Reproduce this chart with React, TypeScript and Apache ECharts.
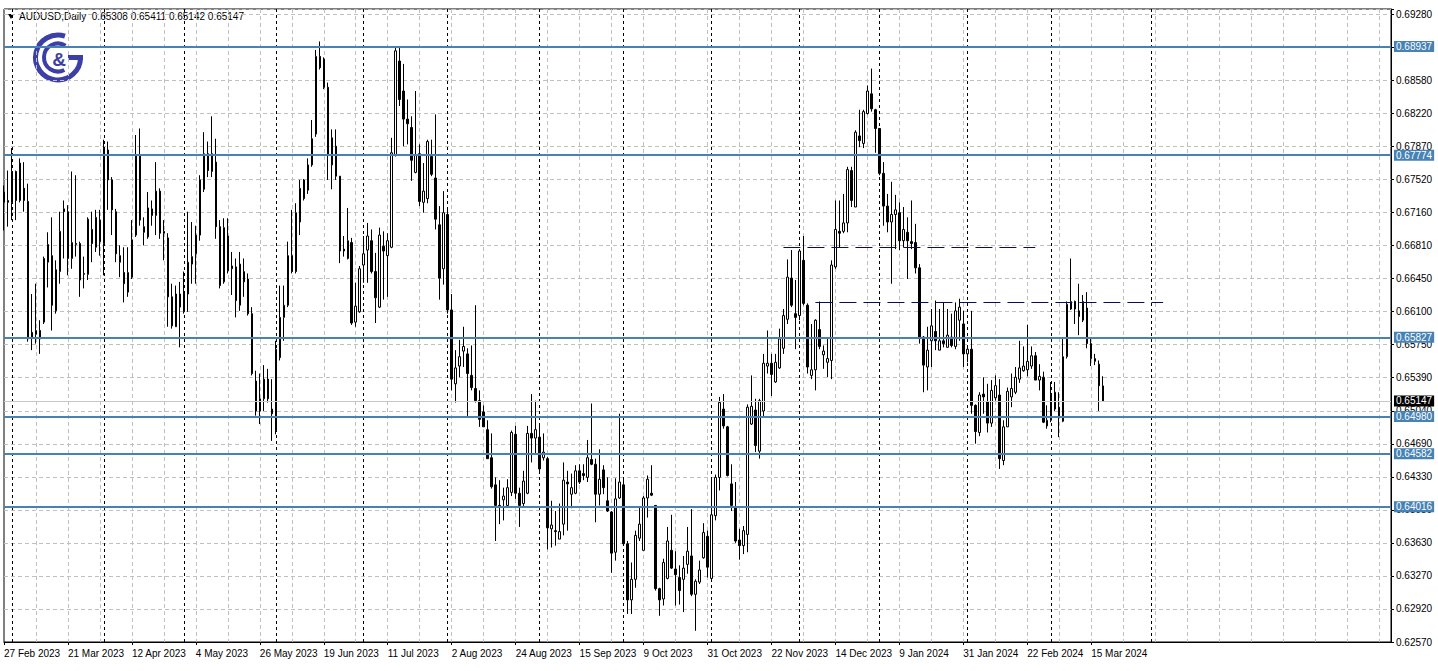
import { useEffect, useRef } from "react";
import * as echarts from "echarts";

// ---------- data ----------
const SYMBOL_TEXT = "AUDUSD,Daily  0.65308 0.65411 0.65142 0.65147";
const START_DATE = [2023, 1, 27]; // 27 Feb 2023 (month is 0-based)
const MISSING_DAYS = ["2023-12-25", "2024-01-01"];
const TOTAL_SLOTS = 348;
const LABEL_EVERY = 16;
const GRID_EVERY = 8;
const EXTRA_SEPARATOR = 287;

const Y_TICK_LABELS = [
  "0.62570", "0.62920", "0.63270", "0.63630", "0.63980", "0.64330", "0.64690",
  "0.65040", "0.65390", "0.65750", "0.66100", "0.66450", "0.66810", "0.67160",
  "0.67520", "0.67870", "0.68220", "0.68580", "0.68930", "0.69280",
];
const Y_MIN = 0.6257;
const Y_TOP_TICK = 0.6928;
const Y_MAX = 0.69337;

const LEVELS = [0.68937, 0.67774, 0.65827, 0.6498, 0.64582, 0.64016];
const LAST_PRICE = 0.65147;
const DASHED_LEVELS = [
  { from: 195, to: 258, price: 0.66794 },
  { from: 203, to: 290, price: 0.66207 },
];

// [open, high, low, close]
const OHLC: number[][] = [
  [0.6727, 0.6745, 0.6697, 0.6738], [0.6727, 0.6761, 0.6701, 0.6729], [0.6727, 0.6785, 0.6708, 0.6760],
  [0.6760, 0.6761, 0.6708, 0.6729], [0.6729, 0.6774, 0.6727, 0.6769], [0.6742, 0.6770, 0.6717, 0.6729],
  [0.6728, 0.6747, 0.6578, 0.6581], [0.6583, 0.6629, 0.6569, 0.6588], [0.6586, 0.6640, 0.6576, 0.6590],
  [0.6590, 0.6601, 0.6565, 0.6581], [0.6599, 0.6669, 0.6597, 0.6667], [0.6663, 0.6695, 0.6636, 0.6682],
  [0.6670, 0.6711, 0.6590, 0.6617], [0.6611, 0.6665, 0.6608, 0.6655], [0.6653, 0.6717, 0.6640, 0.6696],
  [0.6720, 0.6729, 0.6667, 0.6717], [0.6717, 0.6724, 0.6649, 0.6667], [0.6667, 0.6760, 0.6656, 0.6684],
  [0.6683, 0.6756, 0.6669, 0.6682], [0.6683, 0.6685, 0.6626, 0.6644], [0.6650, 0.6669, 0.6635, 0.6651],
  [0.6650, 0.6711, 0.6644, 0.6709], [0.6698, 0.6717, 0.6663, 0.6683], [0.6679, 0.6719, 0.6674, 0.6711],
  [0.6708, 0.6719, 0.6670, 0.6685], [0.6683, 0.6794, 0.6649, 0.6785], [0.6783, 0.6792, 0.6719, 0.6751],
  [0.6751, 0.6754, 0.6692, 0.6719], [0.6717, 0.6720, 0.6663, 0.6672], [0.6670, 0.6681, 0.6647, 0.6663],
  [0.6652, 0.6679, 0.6620, 0.6640], [0.6631, 0.6679, 0.6626, 0.6652], [0.6647, 0.6708, 0.6645, 0.6687],
  [0.6692, 0.6799, 0.6690, 0.6778], [0.6777, 0.6806, 0.6702, 0.6708], [0.6695, 0.6711, 0.6681, 0.6701],
  [0.6690, 0.6738, 0.6688, 0.6721], [0.6720, 0.6729, 0.6702, 0.6713], [0.6713, 0.6770, 0.6692, 0.6739],
  [0.6739, 0.6742, 0.6688, 0.6694], [0.6694, 0.6708, 0.6665, 0.6696], [0.6689, 0.6694, 0.6594, 0.6626],
  [0.6626, 0.6640, 0.6592, 0.6595], [0.6594, 0.6638, 0.6594, 0.6629], [0.6629, 0.6642, 0.6572, 0.6615],
  [0.6610, 0.6653, 0.6608, 0.6630], [0.6629, 0.6717, 0.6610, 0.6663], [0.6661, 0.6706, 0.6640, 0.6669],
  [0.6672, 0.6702, 0.6640, 0.6692], [0.6692, 0.6756, 0.6686, 0.6751], [0.6741, 0.6802, 0.6738, 0.6779],
  [0.6779, 0.6792, 0.6754, 0.6761], [0.6760, 0.6819, 0.6754, 0.6779], [0.6770, 0.6795, 0.6688, 0.6701],
  [0.6701, 0.6708, 0.6635, 0.6638], [0.6642, 0.6710, 0.6640, 0.6700], [0.6691, 0.6710, 0.6651, 0.6654],
  [0.6656, 0.6674, 0.6628, 0.6659], [0.6658, 0.6667, 0.6604, 0.6622], [0.6617, 0.6674, 0.6611, 0.6661],
  [0.6642, 0.6667, 0.6626, 0.6653], [0.6645, 0.6651, 0.6606, 0.6608], [0.6608, 0.6615, 0.6542, 0.6544],
  [0.6536, 0.6547, 0.6499, 0.6504], [0.6504, 0.6544, 0.6490, 0.6517], [0.6517, 0.6553, 0.6504, 0.6538],
  [0.6538, 0.6549, 0.6513, 0.6517], [0.6506, 0.6538, 0.6472, 0.6501], [0.6483, 0.6579, 0.6479, 0.6570],
  [0.6561, 0.6638, 0.6558, 0.6604], [0.6604, 0.6638, 0.6579, 0.6617], [0.6617, 0.6685, 0.6615, 0.6670],
  [0.6670, 0.6719, 0.6651, 0.6653], [0.6653, 0.6726, 0.6651, 0.6716], [0.6706, 0.6751, 0.6692, 0.6742],
  [0.6731, 0.6752, 0.6729, 0.6751], [0.6740, 0.6774, 0.6736, 0.6767], [0.6767, 0.6815, 0.6765, 0.6795],
  [0.6800, 0.6890, 0.6797, 0.6883], [0.6883, 0.6899, 0.6869, 0.6871], [0.6880, 0.6882, 0.6848, 0.6850],
  [0.6850, 0.6855, 0.6751, 0.6777], [0.6767, 0.6805, 0.6741, 0.6796], [0.6787, 0.6805, 0.6751, 0.6755],
  [0.6755, 0.6755, 0.6662, 0.6675], [0.6677, 0.6691, 0.6669, 0.6675], [0.6667, 0.6721, 0.6666, 0.6686],
  [0.6684, 0.6689, 0.6596, 0.6598], [0.6599, 0.6641, 0.6594, 0.6616], [0.6610, 0.6659, 0.6609, 0.6656],
  [0.6660, 0.6691, 0.6641, 0.6672], [0.6676, 0.6705, 0.6641, 0.6691], [0.6686, 0.6698, 0.6651, 0.6653],
  [0.6653, 0.6673, 0.6598, 0.6625], [0.6615, 0.6700, 0.6614, 0.6692], [0.6680, 0.6696, 0.6623, 0.6675],
  [0.6670, 0.6694, 0.6626, 0.6686], [0.6679, 0.6796, 0.6678, 0.6780], [0.6778, 0.6894, 0.6776, 0.6889],
  [0.6878, 0.6894, 0.6830, 0.6837], [0.6846, 0.6875, 0.6787, 0.6816], [0.6816, 0.6837, 0.6789, 0.6811],
  [0.6807, 0.6819, 0.6750, 0.6772], [0.6759, 0.6846, 0.6758, 0.6778], [0.6779, 0.6789, 0.6723, 0.6728],
  [0.6727, 0.6769, 0.6716, 0.6739], [0.6731, 0.6794, 0.6726, 0.6792], [0.6776, 0.6794, 0.6755, 0.6757],
  [0.6753, 0.6821, 0.6698, 0.6709], [0.6703, 0.6723, 0.6623, 0.6646], [0.6656, 0.6739, 0.6639, 0.6716],
  [0.6714, 0.6719, 0.6608, 0.6612], [0.6612, 0.6629, 0.6526, 0.6538], [0.6533, 0.6569, 0.6513, 0.6550],
  [0.6552, 0.6580, 0.6540, 0.6562], [0.6568, 0.6594, 0.6551, 0.6573], [0.6565, 0.6571, 0.6497, 0.6544],
  [0.6542, 0.6574, 0.6526, 0.6529], [0.6528, 0.6617, 0.6513, 0.6515], [0.6515, 0.6526, 0.6487, 0.6495],
  [0.6503, 0.6510, 0.6487, 0.6487], [0.6484, 0.6494, 0.6453, 0.6453], [0.6454, 0.6480, 0.6421, 0.6423],
  [0.6425, 0.6433, 0.6365, 0.6403], [0.6403, 0.6430, 0.6383, 0.6402], [0.6409, 0.6422, 0.6387, 0.6413],
  [0.6403, 0.6431, 0.6401, 0.6422], [0.6417, 0.6483, 0.6413, 0.6481], [0.6479, 0.6488, 0.6410, 0.6416],
  [0.6416, 0.6422, 0.6380, 0.6403], [0.6405, 0.6440, 0.6401, 0.6429], [0.6416, 0.6488, 0.6415, 0.6480],
  [0.6480, 0.6522, 0.6449, 0.6475], [0.6475, 0.6515, 0.6458, 0.6484], [0.6476, 0.6488, 0.6437, 0.6442],
  [0.6454, 0.6480, 0.6451, 0.6460], [0.6453, 0.6455, 0.6356, 0.6379], [0.6378, 0.6408, 0.6358, 0.6382],
  [0.6376, 0.6397, 0.6360, 0.6375], [0.6367, 0.6405, 0.6367, 0.6375], [0.6383, 0.6449, 0.6371, 0.6430],
  [0.6428, 0.6440, 0.6376, 0.6426], [0.6415, 0.6437, 0.6400, 0.6422], [0.6416, 0.6446, 0.6415, 0.6440],
  [0.6440, 0.6447, 0.6426, 0.6428], [0.6437, 0.6447, 0.6430, 0.6435], [0.6433, 0.6473, 0.6428, 0.6454],
  [0.6452, 0.6512, 0.6446, 0.6447], [0.6447, 0.6453, 0.6385, 0.6415], [0.6415, 0.6463, 0.6403, 0.6431],
  [0.6441, 0.6446, 0.6415, 0.6422], [0.6408, 0.6433, 0.6396, 0.6397], [0.6396, 0.6397, 0.6331, 0.6352],
  [0.6353, 0.6432, 0.6344, 0.6410], [0.6411, 0.6501, 0.6410, 0.6428], [0.6425, 0.6433, 0.6362, 0.6362],
  [0.6362, 0.6365, 0.6287, 0.6302], [0.6302, 0.6342, 0.6287, 0.6324], [0.6324, 0.6376, 0.6315, 0.6371],
  [0.6368, 0.6401, 0.6365, 0.6383], [0.6355, 0.6413, 0.6355, 0.6411], [0.6411, 0.6435, 0.6390, 0.6431],
  [0.6416, 0.6446, 0.6413, 0.6414], [0.6403, 0.6403, 0.6312, 0.6314], [0.6314, 0.6315, 0.6285, 0.6302],
  [0.6303, 0.6346, 0.6296, 0.6342], [0.6325, 0.6380, 0.6324, 0.6365], [0.6355, 0.6393, 0.6335, 0.6336],
  [0.6335, 0.6354, 0.6296, 0.6329], [0.6326, 0.6339, 0.6297, 0.6312], [0.6324, 0.6349, 0.6289, 0.6336],
  [0.6340, 0.6380, 0.6330, 0.6354], [0.6349, 0.6399, 0.6306, 0.6308], [0.6308, 0.6324, 0.6269, 0.6322],
  [0.6321, 0.6344, 0.6319, 0.6334], [0.6347, 0.6384, 0.6346, 0.6374], [0.6370, 0.6376, 0.6326, 0.6337],
  [0.6325, 0.6433, 0.6322, 0.6393], [0.6392, 0.6436, 0.6387, 0.6433], [0.6433, 0.6519, 0.6419, 0.6513],
  [0.6506, 0.6522, 0.6485, 0.6488], [0.6487, 0.6488, 0.6434, 0.6435], [0.6426, 0.6447, 0.6397, 0.6403],
  [0.6401, 0.6428, 0.6363, 0.6365], [0.6366, 0.6378, 0.6345, 0.6360], [0.6360, 0.6381, 0.6351, 0.6376],
  [0.6372, 0.6511, 0.6353, 0.6508], [0.6490, 0.6542, 0.6489, 0.6509], [0.6505, 0.6517, 0.6460, 0.6467],
  [0.6461, 0.6517, 0.6453, 0.6515], [0.6504, 0.6565, 0.6497, 0.6555], [0.6552, 0.6590, 0.6544, 0.6555],
  [0.6555, 0.6565, 0.6520, 0.6543], [0.6535, 0.6565, 0.6534, 0.6556], [0.6550, 0.6592, 0.6549, 0.6581],
  [0.6571, 0.6613, 0.6565, 0.6606], [0.6602, 0.6666, 0.6597, 0.6647], [0.6646, 0.6676, 0.6615, 0.6617],
  [0.6608, 0.6644, 0.6570, 0.6604], [0.6606, 0.6677, 0.6601, 0.6675], [0.6665, 0.6691, 0.6617, 0.6619],
  [0.6617, 0.6619, 0.6544, 0.6551], [0.6542, 0.6597, 0.6538, 0.6548], [0.6548, 0.6602, 0.6526, 0.6601],
  [0.6591, 0.6621, 0.6570, 0.6573], [0.6564, 0.6574, 0.6549, 0.6568], [0.6556, 0.6583, 0.6540, 0.6560],
  [0.6558, 0.6665, 0.6538, 0.6660], [0.6658, 0.6729, 0.6656, 0.6698], [0.6696, 0.6729, 0.6679, 0.6694],
  [0.6696, 0.6736, 0.6694, 0.6705], [0.6705, 0.6765, 0.6695, 0.6762], [0.6761, 0.6765, 0.6722, 0.6729],
  [0.6722, 0.6804, 0.6722, 0.6802], [0.6798, 0.6826, 0.6786, 0.6793], [0.6790, 0.6826, 0.6785, 0.6824],
  [0.6822, 0.6852, 0.6821, 0.6846], [0.6843, 0.6870, 0.6824, 0.6827], [0.6826, 0.6827, 0.6780, 0.6806],
  [0.6806, 0.6806, 0.6756, 0.6758], [0.6758, 0.6770, 0.6702, 0.6723], [0.6723, 0.6736, 0.6695, 0.6706],
  [0.6706, 0.6749, 0.6640, 0.6714], [0.6714, 0.6735, 0.6677, 0.6719], [0.6716, 0.6727, 0.6676, 0.6686],
  [0.6686, 0.6722, 0.6679, 0.6698], [0.6695, 0.6711, 0.6645, 0.6686], [0.6685, 0.6729, 0.6677, 0.6683],
  [0.6684, 0.6704, 0.6651, 0.6657], [0.6657, 0.6661, 0.6576, 0.6583], [0.6583, 0.6584, 0.6524, 0.6553],
  [0.6551, 0.6594, 0.6526, 0.6569], [0.6579, 0.6613, 0.6551, 0.6595], [0.6589, 0.6622, 0.6569, 0.6579],
  [0.6569, 0.6613, 0.6569, 0.6579], [0.6579, 0.6620, 0.6572, 0.6576], [0.6572, 0.6613, 0.6572, 0.6585],
  [0.6583, 0.6608, 0.6572, 0.6574], [0.6573, 0.6620, 0.6570, 0.6611], [0.6601, 0.6624, 0.6579, 0.6615],
  [0.6597, 0.6611, 0.6551, 0.6565], [0.6565, 0.6574, 0.6556, 0.6570], [0.6570, 0.6611, 0.6501, 0.6510],
  [0.6510, 0.6511, 0.6469, 0.6482], [0.6481, 0.6524, 0.6477, 0.6521], [0.6522, 0.6540, 0.6501, 0.6519],
  [0.6514, 0.6533, 0.6481, 0.6491], [0.6491, 0.6537, 0.6487, 0.6526], [0.6518, 0.6542, 0.6515, 0.6531],
  [0.6521, 0.6538, 0.6442, 0.6453], [0.6451, 0.6494, 0.6446, 0.6487], [0.6487, 0.6529, 0.6487, 0.6525],
  [0.6519, 0.6544, 0.6508, 0.6528], [0.6524, 0.6551, 0.6522, 0.6540], [0.6538, 0.6579, 0.6534, 0.6550],
  [0.6547, 0.6573, 0.6546, 0.6552], [0.6548, 0.6596, 0.6541, 0.6557], [0.6552, 0.6573, 0.6549, 0.6563],
  [0.6563, 0.6567, 0.6537, 0.6537], [0.6537, 0.6554, 0.6526, 0.6541], [0.6540, 0.6546, 0.6491, 0.6492],
  [0.6488, 0.6510, 0.6485, 0.6494], [0.6494, 0.6535, 0.6492, 0.6522], [0.6524, 0.6535, 0.6504, 0.6506],
  [0.6508, 0.6524, 0.6476, 0.6498], [0.6493, 0.6583, 0.6492, 0.6562], [0.6562, 0.6621, 0.6560, 0.6618],
  [0.6613, 0.6667, 0.6612, 0.6621], [0.6621, 0.6622, 0.6597, 0.6613], [0.6611, 0.6640, 0.6585, 0.6605],
  [0.6601, 0.6628, 0.6599, 0.6621], [0.6614, 0.6631, 0.6571, 0.6576], [0.6576, 0.6581, 0.6552, 0.6560],
  [0.6557, 0.6565, 0.6553, 0.6560], [0.6554, 0.6558, 0.6504, 0.6531], [0.65308, 0.65411, 0.65142, 0.65147],
];

// ---------- helpers ----------
const MONTHS = ["Jan", "Feb", "Mar", "Apr", "May", "Jun", "Jul", "Aug", "Sep", "Oct", "Nov", "Dec"];

function buildSlots() {
  const labels: string[] = [];
  const months: number[] = [];
  const d = new Date(Date.UTC(START_DATE[0], START_DATE[1], START_DATE[2]));
  while (labels.length < TOTAL_SLOTS) {
    const dow = d.getUTCDay();
    const iso = d.toISOString().slice(0, 10);
    if (dow !== 0 && dow !== 6 && !MISSING_DAYS.includes(iso)) {
      labels.push(`${d.getUTCDate()} ${MONTHS[d.getUTCMonth()]} ${d.getUTCFullYear()}`);
      months.push(d.getUTCMonth());
    }
    d.setUTCDate(d.getUTCDate() + 1);
  }
  return { labels, months };
}

const FONT = '"Liberation Sans", Arial, "DejaVu Sans", sans-serif';
const BLUE = "#4682b4";
const LOGO = "#3c3fa3";
const NAVY = "#0b0b5c";

export default function App() {
  const ref = useRef<HTMLDivElement>(null);

  useEffect(() => {
    if (!ref.current) return;
    const chart = echarts.init(ref.current, undefined, { renderer: "svg" });
    const { labels, months } = buildSlots();
    const lastIdx = OHLC.length - 1;
    const separators = new Set<number>();
    for (let i = 1; i <= lastIdx; i++) if (months[i] !== months[i - 1]) separators.add(i);
    separators.add(EXTRA_SEPARATOR);

    const yStep = (Y_TOP_TICK - Y_MIN) / (Y_TICK_LABELS.length - 1);
    const yLabel = (v: number) => {
      const k = Math.round((v - Y_MIN) / yStep);
      if (k < 0 || k >= Y_TICK_LABELS.length) return "";
      if (Math.abs(v - (Y_MIN + k * yStep)) > yStep * 0.05) return "";
      return Y_TICK_LABELS[k];
    };

    const candleData = OHLC.map(([o, h, l, c]) => [o, c, l, h]);

    const levelLines = LEVELS.map((v) => ({
      yAxis: v,
      lineStyle: { color: BLUE, width: 2, type: "solid" },
      label: {
        show: true,
        position: "end",
        distance: 3,
        formatter: v.toFixed(5),
        color: "#ffffff",
        backgroundColor: BLUE,
        padding: [1, 2, 0, 2],
        fontSize: 10,
        fontFamily: FONT,
      },
    }));

    const dashedLines = DASHED_LEVELS.map((s) => [
      { coord: [s.from, s.price], lineStyle: { color: NAVY, width: 1, type: [17, 7] }, label: { show: false } },
      { coord: [s.to, s.price] },
    ]);

    const option: any = {
      animation: false,
      backgroundColor: "#ffffff",
      grid: {
        left: 4,
        right: 47,
        top: 9,
        bottom: 29,
        show: true,
        borderColor: "#000000",
        borderWidth: 1,
        backgroundColor: "transparent",
      },
      xAxis: [
        {
          type: "category",
          data: labels,
          boundaryGap: false,
          axisLine: { show: true, lineStyle: { color: "#000", width: 1 } },
          axisTick: {
            show: true,
            length: 3,
            interval: (i: number) => i % LABEL_EVERY === 0 && i <= lastIdx,
            lineStyle: { color: "#000" },
          },
          axisLabel: {
            show: true,
            interval: (i: number) => i % LABEL_EVERY === 0 && i <= lastIdx,
            align: "left",
            margin: 6,
            color: "#000",
            fontSize: 10,
            fontFamily: FONT,
            hideOverlap: false,
          },
          splitLine: {
            show: true,
            interval: (i: number) => i % GRID_EVERY === 0 && i > 0,
            lineStyle: { color: "#c0c0c0", type: [4, 3], width: 1 },
          },
        },
        {
          type: "category",
          data: labels,
          boundaryGap: false,
          position: "top",
          axisLine: { show: false },
          axisTick: { show: false },
          axisLabel: { show: false },
          splitLine: {
            show: true,
            interval: (i: number) => separators.has(i),
            lineStyle: { color: "#000", type: [3, 3], width: 1 },
          },
        },
      ],
      yAxis: {
        type: "value",
        position: "right",
        min: Y_MIN,
        max: Y_MAX,
        interval: yStep,
        scale: true,
        axisLine: { show: true, lineStyle: { color: "#000", width: 1 } },
        axisTick: { show: true, length: 3, lineStyle: { color: "#000" } },
        axisLabel: {
          show: true,
          margin: 5,
          color: "#000",
          fontSize: 10,
          fontFamily: FONT,
          formatter: yLabel,
          showMaxLabel: true,
          showMinLabel: true,
        },
        splitLine: {
          show: true,
          lineStyle: { color: "#c0c0c0", type: [4, 3], width: 1 },
        },
      },
      series: [
        {
          type: "candlestick",
          xAxisIndex: 0,
          data: candleData,
          barWidth: 2,
          itemStyle: {
            color: "#ffffff",
            color0: "#000000",
            borderColor: "#000000",
            borderColor0: "#000000",
            borderColorDoji: "#000000",
            borderWidth: 1,
          },
          markLine: {
            silent: true,
            symbol: ["none", "none"],
            precision: 5,
            animation: false,
            data: [
              {
                yAxis: LAST_PRICE,
                lineStyle: { color: "#c8c8c8", width: 1, type: "solid" },
                label: {
                  show: true,
                  position: "end",
                  distance: 3,
                  formatter: LAST_PRICE.toFixed(5),
                  color: "#ffffff",
                  backgroundColor: "#000000",
                  padding: [1, 2, 0, 2],
                  fontSize: 10,
                  fontFamily: FONT,
                },
              },
              ...levelLines,
              ...dashedLines,
            ],
          },
        },
      ],
      graphic: [
        {
          type: "polygon",
          shape: { points: [[8, 14], [14, 14], [11, 19]] },
          style: { fill: "#000" },
        },
        {
          type: "text",
          x: 19,
          y: 11,
          style: {
            text: SYMBOL_TEXT,
            fill: "#000",
            font: `10px ${FONT}`,
            textVerticalAlign: "top",
            verticalAlign: "top",
          },
        },
        {
          type: "group",
          children: [
            {
              type: "arc",
              shape: { cx: 58, cy: 57.5, r: 22.5, startAngle: 0, endAngle: Math.PI * 1.6, clockwise: true },
              style: { stroke: LOGO, lineWidth: 5, fill: "none" },
            },
            {
              type: "line",
              shape: { x1: 68, y1: 57.5, x2: 83, y2: 57.5 },
              style: { stroke: LOGO, lineWidth: 5 },
            },
            {
              type: "arc",
              shape: { cx: 58, cy: 57.5, r: 14, startAngle: Math.PI * 0.35, endAngle: Math.PI * 1.68, clockwise: true },
              style: { stroke: LOGO, lineWidth: 4, fill: "none" },
            },
            {
              type: "text",
              x: 59,
              y: 59,
              style: {
                text: "&",
                fill: LOGO,
                font: `bold 19px ${FONT}`,
                textAlign: "center",
                align: "center",
                textVerticalAlign: "middle",
                verticalAlign: "middle",
              },
            },
          ],
        },
      ],
    };

    chart.setOption(option);
    return () => chart.dispose();
  }, []);

  return (
    <div
      ref={ref}
      style={{ position: "fixed", left: 0, top: 0, width: 1438, height: 671, background: "#fff" }}
    />
  );
}
